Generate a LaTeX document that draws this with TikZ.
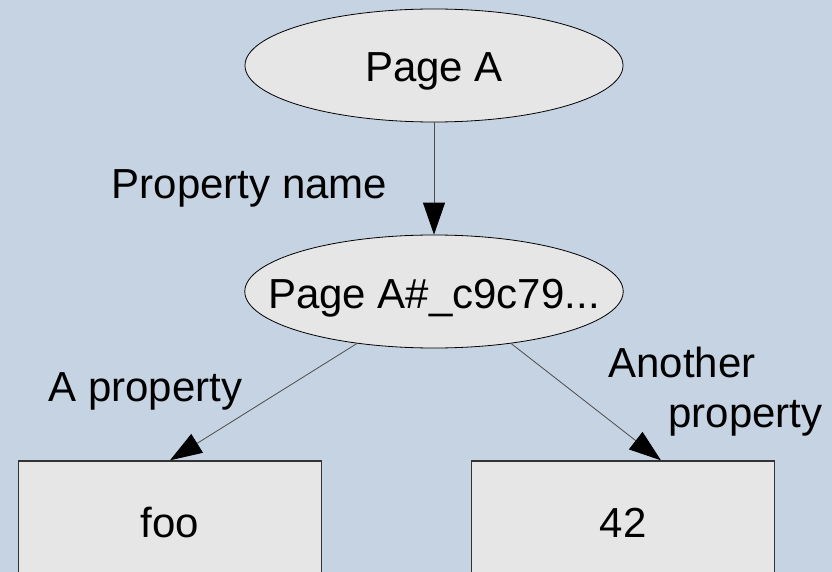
\documentclass[tikz,border=0pt]{standalone}
\usepackage{fontspec}
\setmainfont{Liberation Sans}
\usetikzlibrary{shapes.geometric,arrows.meta}
\definecolor{paper}{HTML}{C5D3E2}
\definecolor{shape}{HTML}{E6E6E6}

\begin{document}
\begin{tikzpicture}
	[x=1pt, y=-1pt,
	every node/.style={font=\fontsize{42}{50}\selectfont},
	page/.style={ellipse, draw=black, line width=0.8pt, fill=shape,
		minimum width=378pt, minimum height=113pt, inner sep=0pt,
		text height=33pt, text depth=0pt},
	value/.style={rectangle, draw=black!80, line width=1.4pt, fill=shape,
		minimum width=303pt, minimum height=120pt, inner sep=0pt,
		text height=33pt, text depth=0pt},
	link/.style={draw=black!70, line width=0.8pt,
		-{Triangle[length=32pt,width=22pt,color=black]}}]
	\useasboundingbox (0,0) rectangle (832,572);
	\fill[paper] (0,0) rectangle (832,572);

	\node[page] (pa) at (434,65.5) {Page A};
	\node[page, inner xsep=-32pt] (pb) at (434,291.5) {Page A\#\_c9c79...};
	\node[value] (foo) at (170,521) {foo};
	\node[value] (num) at (623,521) {42};

	% property labels
	\node[anchor=base] (pname) at (249.5,198) {Property name};
	\node[anchor=base] (aprop) at (145.5,401) {A property};
	\node[anchor=base west] (another) at (605,377) {Another};
	\node[anchor=base west] (bprop) at (665,427) {property};

	\draw[link] (pa.south) -- (pb.north);
	\draw[link] (pb.214) -- (foo.north);
	\draw[link] (pb.326) -- (num.58);
\end{tikzpicture}
\end{document}
